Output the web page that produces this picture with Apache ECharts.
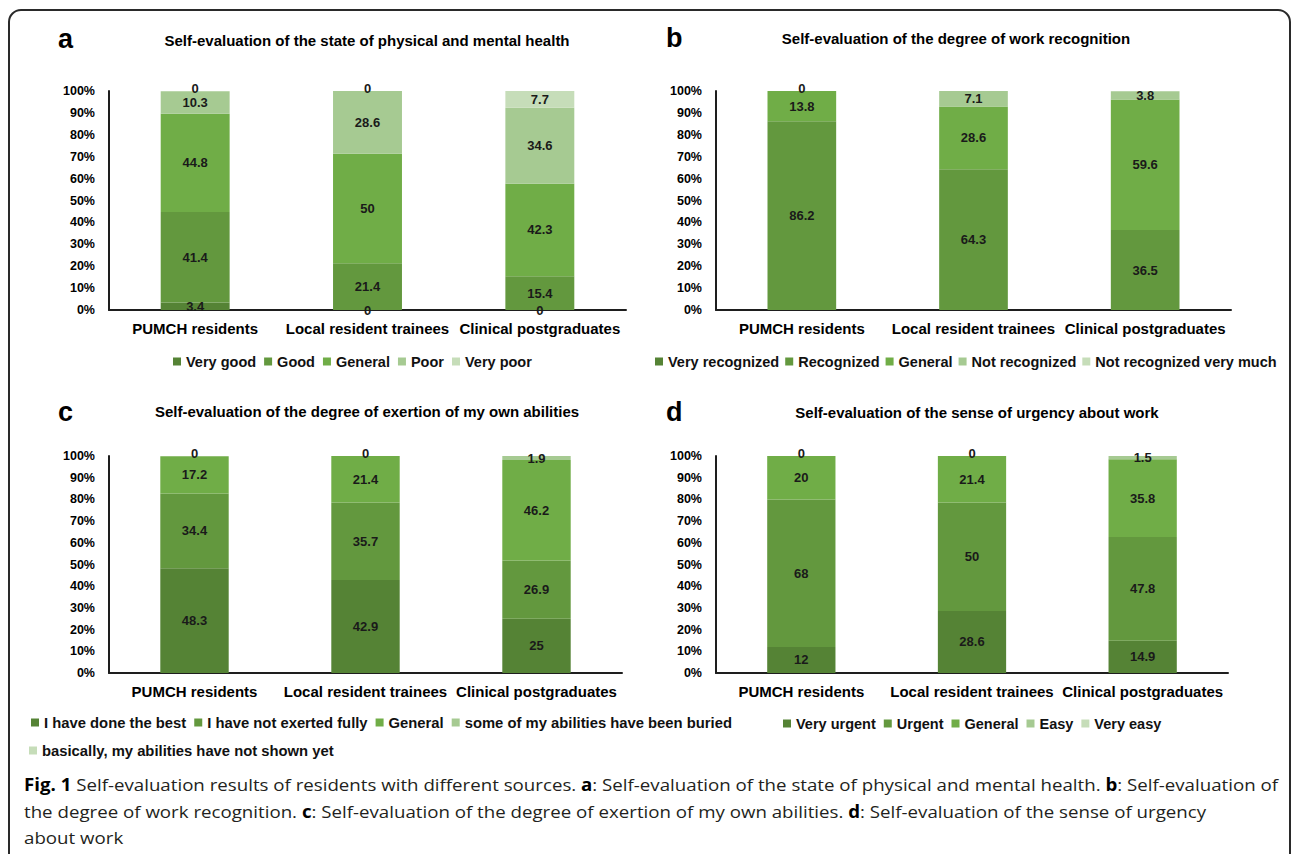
<!DOCTYPE html>
<html>
<head>
<meta charset="utf-8">
<title>Self-evaluation results of residents with different sources</title>
<script src="https://cdn.jsdelivr.net/npm/echarts@6.0.0/dist/echarts.min.js"></script>
<style>
  html, body { margin: 0; padding: 0; background: #fff; }
  #wrap { position: relative; width: 1292px; height: 854px; overflow: hidden; background: #fff; }
  #frame { position: absolute; left: 8px; top: 9px; width: 1283px; height: 900px;
           border: 2px solid #2a2a2a; border-radius: 13px; box-sizing: border-box; }
  #chart { position: absolute; left: 0; top: 0; width: 1292px; height: 770px; }
  .cap { position: absolute; left: 24px; white-space: nowrap; font-family: 'Open Sans', 'Noto Sans', sans-serif;
         font-size: 17px; line-height: 27px; color: #231f20; transform-origin: 0 50%; }
  .cap b { font-weight: 700; color: #000; }
</style>
</head>
<body>
<div id="wrap">
  <div id="frame"></div>
  <div id="chart"></div>
  <div class="cap" style="top:771px"><b>Fig. 1</b> Self-evaluation results of residents with different sources. <b>a</b>: Self-evaluation of the state of physical and mental health. <b>b</b>: Self-evaluation of</div>
  <div class="cap" style="top:798px">the degree of work recognition. <b>c</b>: Self-evaluation of the degree of exertion of my own abilities. <b>d</b>: Self-evaluation of the sense of urgency</div>
  <div class="cap" style="top:824px">about work</div>
</div>
<script>
// Resident groups shown on every x-axis
const categories = ['PUMCH residents', 'Local resident trainees', 'Clinical postgraduates'];

// (a) physical and mental health, % per answer
const healthLevels = ['Very good', 'Good', 'General', 'Poor', 'Very poor'];
const healthVeryGood = [3.4, 0, 0];
const healthGood = [41.4, 21.4, 15.4];
const healthGeneral = [44.8, 50, 42.3];
const healthPoor = [10.3, 28.6, 34.6];
const healthVeryPoor = [0, 0, 7.7];

// (b) work recognition, % per answer (null = no answer recorded)
const recognitionLevels = ['Very recognized', 'Recognized', 'General', 'Not recognized', 'Not recognized very much'];
const recogVery = [null, null, null];
const recogRecognized = [86.2, 64.3, 36.5];
const recogGeneral = [13.8, 28.6, 59.6];
const recogNot = [0, 7.1, 3.8];
const recogNotVeryMuch = [null, null, null];

// (c) exertion of own abilities, % per answer
const exertionLevels = ['I have done the best', 'I have not exerted fully', 'General',
  'some of my abilities have been buried', 'basically, my abilities have not shown yet'];
const exertBest = [48.3, 42.9, 25];
const exertNotFully = [34.4, 35.7, 26.9];
const exertGeneral = [17.2, 21.4, 46.2];
const exertBuried = [0, 0, 1.9];
const exertNotShown = [null, null, null];

// (d) sense of urgency about work, % per answer
const urgencyLevels = ['Very urgent', 'Urgent', 'General', 'Easy', 'Very easy'];
const urgVery = [12, 28.6, 14.9];
const urgUrgent = [68, 50, 47.8];
const urgGeneral = [20, 21.4, 35.8];
const urgEasy = [0, 0, 1.5];
const urgVeryEasy = [null, null, null];

const panelTitles = [
  'Self-evaluation of the state of physical and mental health',
  'Self-evaluation of the degree of work recognition',
  'Self-evaluation of the degree of exertion of my own abilities',
  'Self-evaluation of the sense of urgency about work'
];
const panelLetters = ['a', 'b', 'c', 'd'];

// green shades, darkest answer first
const SHADES = ['#558335', '#63983e', '#70ad47', '#a6ca92', '#c6ddb9'];
const FONT = "'Liberation Sans', Arial, sans-serif";

const panels = [
  { levels: healthLevels, values: [healthVeryGood, healthGood, healthGeneral, healthPoor, healthVeryPoor],
    grid: { left: 109, top: 91, width: 517, height: 219 },
    title: { x: 367, y: 33 }, letter: { x: 58, y: 25 },
    legends: [{ left: 173, top: 354, names: healthLevels, size: 14.5, gap: 8 }] },
  { levels: recognitionLevels, values: [recogVery, recogRecognized, recogGeneral, recogNot, recogNotVeryMuch],
    grid: { left: 716, top: 91, width: 515, height: 219 },
    title: { x: 956, y: 31 }, letter: { x: 666, y: 24 },
    legends: [{ left: 655, top: 354, names: recognitionLevels, size: 14.5, gap: 6 }] },
  { levels: exertionLevels, values: [exertBest, exertNotFully, exertGeneral, exertBuried, exertNotShown],
    grid: { left: 109, top: 456, width: 513, height: 217 },
    title: { x: 367, y: 404 }, letter: { x: 58, y: 398 },
    legends: [{ left: 31, top: 715, names: exertionLevels.slice(0, 4), size: 14.8, gap: 8 },
              { left: 29, top: 743, names: exertionLevels.slice(4), size: 14.8, gap: 8 }] },
  { levels: urgencyLevels, values: [urgVery, urgUrgent, urgGeneral, urgEasy, urgVeryEasy],
    grid: { left: 716, top: 456, width: 512, height: 217 },
    title: { x: 977, y: 405 }, letter: { x: 666, y: 398 },
    legends: [{ left: 783, top: 716, names: urgencyLevels, size: 14.5, gap: 8 }] }
];

const option = {
  animation: false,
  backgroundColor: 'transparent',
  textStyle: { fontFamily: FONT },
  title: [],
  legend: [],
  grid: [],
  xAxis: [],
  yAxis: [],
  series: []
};

panels.forEach((p, i) => {
  option.title.push({
    text: panelTitles[i], left: p.title.x, top: p.title.y, textAlign: 'center', padding: 0,
    textStyle: { fontFamily: FONT, fontSize: 15, fontWeight: 'bold', color: '#000' }
  });
  option.title.push({
    text: panelLetters[i], left: p.letter.x, top: p.letter.y, padding: 0,
    textStyle: { fontFamily: FONT, fontSize: 27, fontWeight: 'bold', color: '#000' }
  });
  p.legends.forEach(l => {
    option.legend.push({
      data: l.names, left: l.left, top: l.top, padding: 0, orient: 'horizontal',
      icon: 'rect', itemWidth: 8, itemHeight: 8, itemGap: l.gap, selectedMode: false,
      textStyle: { fontFamily: FONT, fontSize: l.size, fontWeight: 'bold', color: '#111' }
    });
  });
  option.grid.push({ left: p.grid.left, top: p.grid.top, width: p.grid.width, height: p.grid.height, containLabel: false });
  option.xAxis.push({
    type: 'category', gridIndex: i, data: categories,
    axisLine: { show: true, lineStyle: { color: '#1e1e1e', width: 2 } },
    axisTick: { show: false },
    axisLabel: { margin: 11, fontFamily: FONT, fontSize: 15, fontWeight: 'bold', color: '#000', interval: 0 }
  });
  option.yAxis.push({
    type: 'value', gridIndex: i, min: 0, max: 100, interval: 10,
    axisLine: { show: true, lineStyle: { color: '#1e1e1e', width: 2 } },
    axisTick: { show: false },
    splitLine: { show: false },
    axisLabel: { margin: 14, formatter: '{value}%', fontFamily: FONT, fontSize: 12.5, fontWeight: 'bold', color: '#000' }
  });
  p.levels.forEach((name, j) => {
    // zero shares sitting on the 100% edge are nudged up a little so they clear the label below
    const data = p.values[j].map(v => (v === 0 && j >= 3) ? { value: v, label: { offset: [0, -3] } } : v);
    option.series.push({
      type: 'bar', name: name, stack: 'panel' + i, xAxisIndex: i, yAxisIndex: i,
      data: data, barWidth: '40%',
      itemStyle: { color: SHADES[j] },
      emphasis: { disabled: true },
      label: {
        show: true, position: 'inside', formatter: d => String(d.value),
        fontFamily: FONT, fontSize: 13, fontWeight: 'bold', color: '#1a1a1a'
      }
    });
  });
});

const chart = echarts.init(document.getElementById('chart'), null, { renderer: 'svg' });
chart.setOption(option);

// fit the caption lines to the frame width
function fitCaption() {
  const lines = document.querySelectorAll('.cap');
  lines.forEach(el => { el.style.transform = 'none'; });
  const w = lines[0].getBoundingClientRect().width;
  const s = 1254 / w;
  lines.forEach(el => { el.style.transform = 'scaleX(' + s + ')'; });
}
fitCaption();
if (document.fonts && document.fonts.ready) document.fonts.ready.then(fitCaption);
</script>
</body>
</html>
